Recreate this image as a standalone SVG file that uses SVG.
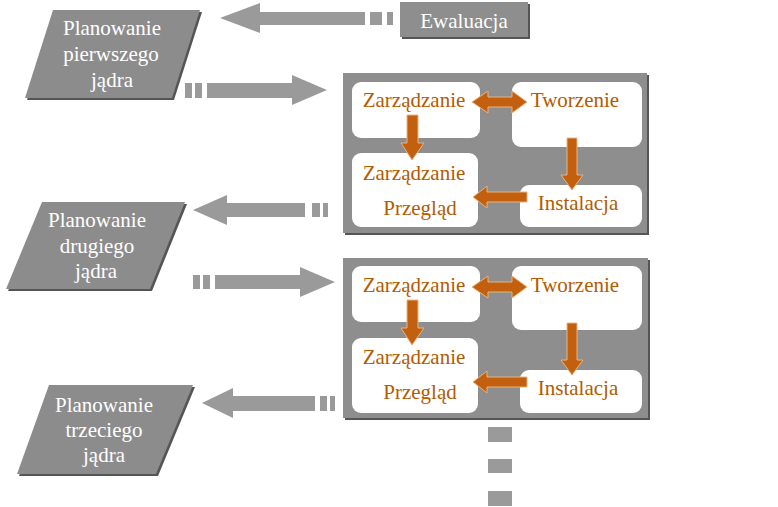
<svg xmlns="http://www.w3.org/2000/svg" width="778" height="507" viewBox="0 0 778 507">
<style>
.par{fill:#8c8c8c}
.shd{fill:#555}
.wt{font-family:"Liberation Serif","Times New Roman",serif;font-size:21px;fill:#fff;text-anchor:middle}
.ot{font-family:"Liberation Serif","Times New Roman",serif;font-size:21px;fill:#b35b00;text-anchor:middle}
.box{fill:#8e8e8e}
.in{fill:#fff}
.ga{fill:#9a9a9a}
.oa{fill:#c26010;stroke:#eab37c;stroke-width:1}
</style>
<rect width="778" height="507" fill="#fff"/>

<g id="planowanie1">
<polygon class="shd" points="55,12 202,12 174,100 27,100"/>
<polygon class="par" points="53,10 200,10 172,98 25,98"/>
<text class="wt" x="112" y="35">Planowanie</text>
<text class="wt" x="111" y="61">pierwszego</text>
<text class="wt" x="112" y="87">jądra</text>
</g>

<g id="ewaluacja">
<rect class="shd" x="402" y="4" width="128" height="35"/>
<rect class="box" x="400" y="2" width="128" height="35"/>
<text class="wt" x="464" y="28">Ewaluacja</text>
</g>

<g id="cykl1">
<rect class="shd" x="345" y="75" width="304" height="160"/>
<rect class="box" x="343" y="73" width="304" height="160"/>
<rect class="in" x="352" y="82" width="128" height="56" rx="9"/>
<rect class="in" x="512" y="82" width="130" height="65" rx="9"/>
<rect class="in" x="352" y="153" width="126" height="74" rx="9"/>
<rect class="in" x="520" y="185" width="122" height="42" rx="9"/>
<polygon class="oa" points="472,102 488,91 488,97 512,97 512,91 527,102 512,113 512,107 488,107 488,113"/>
<polygon class="oa" points="407,115 418,115 418,143 424,143 412,160 401,143 407,143"/>
<polygon class="oa" points="567,138 577,138 577,175 583,175 572,190 561,175 567,175"/>
<polygon class="oa" points="527,192 527,202 487,202 487,208 473,197 487,186 487,192"/>
<text class="ot" x="414" y="107">Zarządzanie</text>
<text class="ot" x="575" y="107">Tworzenie</text>
<text class="ot" x="414" y="180">Zarządzanie</text>
<text class="ot" x="420" y="215">Przegląd</text>
<text class="ot" x="578" y="210">Instalacja</text>
</g>

<g id="planowanie2">
<polygon class="shd" points="44,204 187,204 152,291 8,291"/>
<polygon class="par" points="42,202 185,202 150,289 6,289"/>
<text class="wt" x="97" y="227">Planowanie</text>
<text class="wt" x="97" y="253">drugiego</text>
<text class="wt" x="96" y="278">jądra</text>
</g>

<g id="cykl2">
<rect class="shd" x="345" y="260" width="305" height="160"/>
<rect class="box" x="343" y="258" width="305" height="160"/>
<rect class="in" x="352" y="266" width="128" height="56" rx="9"/>
<rect class="in" x="512" y="266" width="130" height="64" rx="9"/>
<rect class="in" x="352" y="338" width="126" height="75" rx="9"/>
<rect class="in" x="520" y="370" width="122" height="43" rx="9"/>
<polygon class="oa" points="472,287 488,276 488,282 512,282 512,276 527,287 512,298 512,292 488,292 488,298"/>
<polygon class="oa" points="407,300 418,300 418,328 424,328 412,345 401,328 407,328"/>
<polygon class="oa" points="567,323 577,323 577,360 583,360 572,375 561,360 567,360"/>
<polygon class="oa" points="527,377 527,387 487,387 487,393 473,382 487,371 487,377"/>
<text class="ot" x="414" y="292">Zarządzanie</text>
<text class="ot" x="575" y="292">Tworzenie</text>
<text class="ot" x="414" y="364">Zarządzanie</text>
<text class="ot" x="420" y="399">Przegląd</text>
<text class="ot" x="578" y="395">Instalacja</text>
</g>

<g id="planowanie3">
<polygon class="shd" points="51,387 195,387 158,476 19,476"/>
<polygon class="par" points="49,385 193,385 156,474 17,474"/>
<text class="wt" x="104" y="412">Planowanie</text>
<text class="wt" x="104" y="437">trzeciego</text>
<text class="wt" x="104" y="462">jądra</text>
</g>

<g id="connectors">
<polygon class="ga" points="220,18 260,3 260,12 365,12 365,25 260,25 260,33"/>
<rect class="ga" x="370" y="12" width="12" height="13"/>
<rect class="ga" x="387" y="12" width="6" height="13"/>

<rect class="ga" x="185" y="83" width="7" height="15"/>
<rect class="ga" x="195" y="83" width="7" height="15"/>
<polygon class="ga" points="207,83 292,83 292,75 327,90 292,105 292,98 207,98"/>

<polygon class="ga" points="193,210 227,195 227,203 305,203 305,217 227,217 227,225"/>
<rect class="ga" x="312" y="203" width="8" height="14"/>
<rect class="ga" x="323" y="203" width="5" height="14"/>

<rect class="ga" x="193" y="275" width="7" height="14"/>
<rect class="ga" x="203" y="275" width="7" height="14"/>
<polygon class="ga" points="215,275 300,275 300,267 335,282 300,297 300,289 215,289"/>

<polygon class="ga" points="202,403 233,388 233,396 315,396 315,411 233,411 233,418"/>
<rect class="ga" x="320" y="396" width="7" height="15"/>
<rect class="ga" x="330" y="396" width="5" height="15"/>

<rect class="ga" x="488" y="427" width="24" height="15"/>
<rect class="ga" x="488" y="459" width="24" height="14"/>
<rect class="ga" x="488" y="491" width="24" height="15"/>
</g>
</svg>
